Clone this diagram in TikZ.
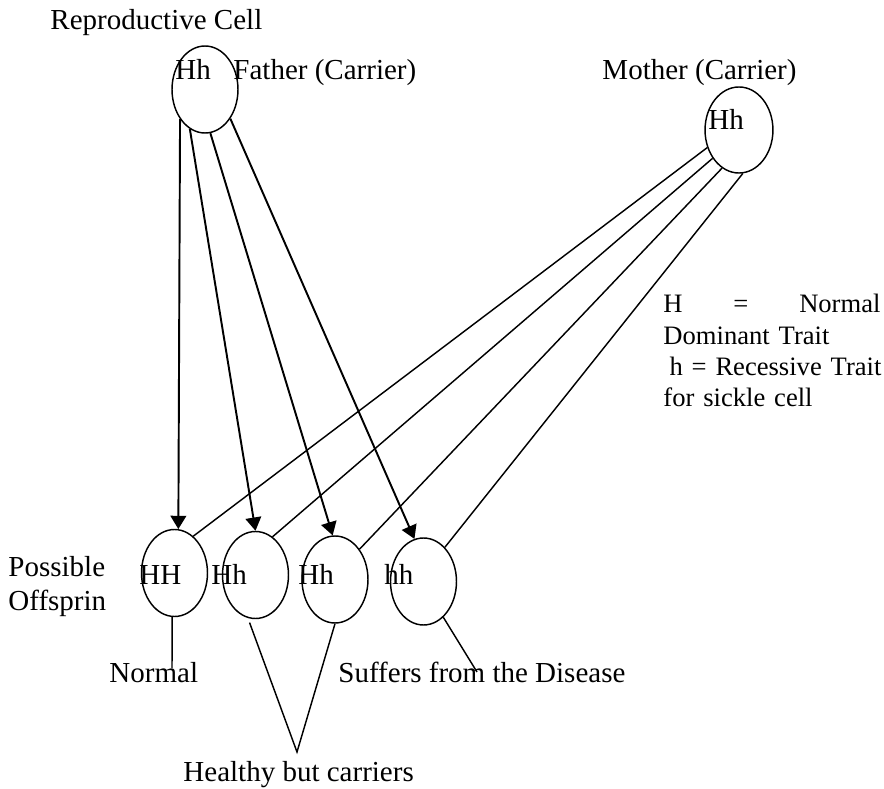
\documentclass[tikz,border=0pt]{standalone}
\usepackage{fontspec}
\setmainfont{Liberation Serif}
\usetikzlibrary{shapes.geometric,arrows.meta}
\tikzset{cell/.style={ellipse,draw,line width=0.6pt,inner sep=0pt,minimum width=27.3pt,
minimum height=36pt},
txt/.style={inner sep=0pt,anchor=base west,font=\fontsize{12}{13.66}\selectfont},
gene/.style={line width=0.8pt,-{Triangle[length=5.5pt,width=6.5pt]}},
link/.style={line width=0.6pt}}

\begin{document}
\begin{tikzpicture}[x=0.4138pt,y=-0.4138pt]
\useasboundingbox (0,0) rectangle (884,789);
% parents
\node[txt] (repro) at (50,30) {Reproductive Cell};
\node[cell] (father) at (205,89.5) {};
\node[txt] (fgene) at (175,80) {Hh};
\node[txt] (fname) at (233,80) {Father (Carrier)};
\node[cell,minimum width=28.1pt,minimum height=35.6pt] (mother) at (739,130) {};
\node[txt] (mgene) at (708,130) {Hh};
\node[txt] (mname) at (602,80) {Mother (Carrier)};
\node[txt,font=\fontsize{11}{12.83}\selectfont,text width=89.8pt,align=left] (key) at (663,313)
{H\hfill=\hfill Normal\\Dominant Trait\\\mbox{\hspace*{2.5pt}h = Recessive Trait}\\for sickle cell};

% offspring
\node[cell] (off1) at (174.5,573) {};
\node[cell] (off2) at (255.5,575) {};
\node[cell] (off3) at (335,579.5) {};
\node[cell] (off4) at (423.5,581.5) {};
\node[txt] (g1) at (139,585) {HH};
\node[txt] (g2) at (211,585) {Hh};
\node[txt] (g3) at (298,585) {Hh};
\node[txt] (g4) at (384,585) {hh};
\node[txt,text width=45pt,align=left] (poss) at (8,577) {Possible\\Offsprin};

\draw[gene] (father.230) -- (off1.85);
\draw[gene] (father.249) -- (off2.north);
\draw[gene] (father.277) -- (off3.93);
\draw[gene] (father.311) -- (off4.102);
\draw[link] (mother.209) -- (off1.63);
\draw[link] (mother.227) -- (off2.66);
\draw[link] (mother.246) -- (off3.51);
\draw[link] (mother.275) -- (off4.58);

% outcomes
\node[txt] (normal) at (109,683) {Normal};
\node[txt] (disease) at (338,683) {Suffers from the Disease};
\node[txt] (carrier) at (183,782) {Healthy but carriers};
\coordinate (nend) at (172,668);
\coordinate (vtip) at (297,752);
\coordinate (dend) at (477,672);
\draw[link] (off1.267) -- (nend);
\draw[link,shorten <=2pt] (off2.260) -- (vtip) -- (off3.south);
\draw[link] (off4.299) -- (dend);
\end{tikzpicture}
\end{document}
